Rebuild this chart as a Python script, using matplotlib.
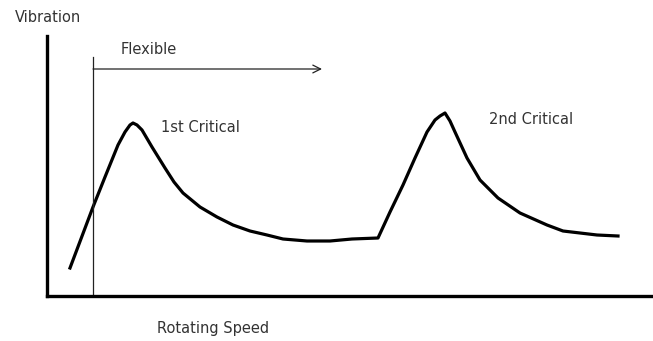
import matplotlib.pyplot as plt

# Rotating speed vs vibration amplitude (arbitrary units)
speed = [23, 46, 58, 71, 78, 83, 86, 90, 95, 105, 118, 127, 136, 153, 170, 186,
         203, 220, 236, 260, 283, 305, 331, 343, 356, 368, 380, 388, 393, 398,
         403, 408, 420, 433, 451, 473, 500, 516, 550, 571]
vibration = [28, 89, 119, 151, 164, 171, 173, 171, 166, 149, 128, 114, 103, 89,
             79, 71, 65, 61, 57, 55, 55, 57, 58, 84, 111, 138, 164, 176, 180,
             183, 175, 164, 138, 116, 98, 83, 71, 65, 61, 60]

# Flexible region marker
flex_start = 46
flex_end = 275
flex_top = 239
flex_level = 227

plt.rcParams['font.family'] = ['DejaVu Sans']

fig = plt.figure(figsize=(6.53, 3.41), dpi=100)
ax = fig.add_axes([47 / 653, 45 / 341, 606 / 653, 260 / 341])
ax.set_xlim(0, 606)
ax.set_ylim(0, 260)

# Axes: only left and bottom, thick black
for side in ['top', 'right']:
    ax.spines[side].set_visible(False)
for side in ['left', 'bottom']:
    ax.spines[side].set_linewidth(2.4)
    ax.spines[side].set_color('black')
ax.set_xticks([])
ax.set_yticks([])

# Response curve
ax.plot(speed, vibration, color='black', lw=2.3, solid_joinstyle='round')

# Flexible marker and arrow
ax.plot([flex_start, flex_start], [0, flex_top], color='#222222', lw=0.9)
ax.annotate('', xy=(flex_end, flex_level), xytext=(flex_start, flex_level),
            arrowprops=dict(arrowstyle='->', color='#222222', lw=0.9,
                            mutation_scale=14, shrinkA=0, shrinkB=0))

text_color = '#333333'
fs = 10.5
ax.text(1, 279, 'Vibration', ha='center', va='center', fontsize=fs,
        color=text_color, clip_on=False)
ax.text(102, 246, 'Flexible', ha='center', va='center', fontsize=fs,
        color=text_color)
ax.text(114, 168, '1st Critical', ha='left', va='center', fontsize=fs,
        color=text_color)
ax.text(442, 176, '2nd Critical', ha='left', va='center', fontsize=fs,
        color=text_color)
ax.text(166, -33, 'Rotating Speed', ha='center', va='center', fontsize=fs,
        color=text_color, clip_on=False)

fig.savefig('out.png', dpi=100)
